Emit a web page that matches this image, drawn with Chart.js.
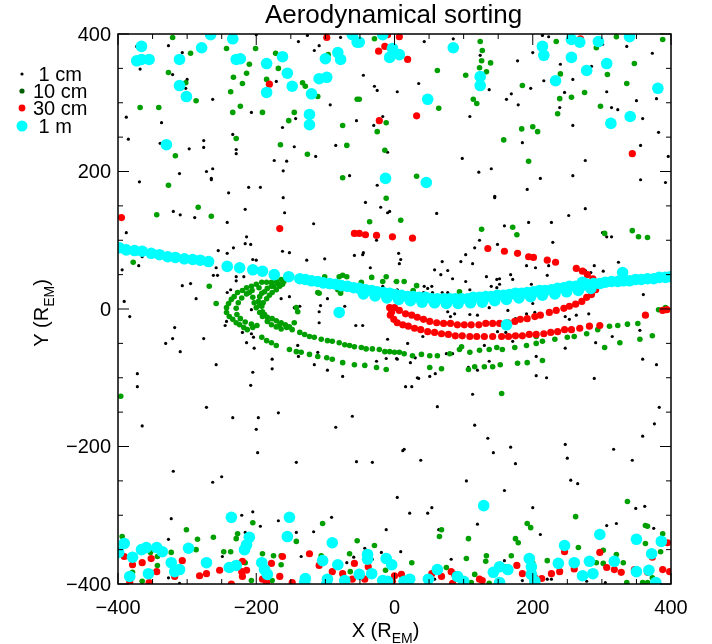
<!DOCTYPE html>
<html lang="en">
<head>
  <meta charset="UTF-8">
  <title>Aerodynamical sorting</title>
  <script src="https://cdn.jsdelivr.net/npm/chart.js"></script>
  <style>
    body { margin: 0; background: #fff; }
    canvas { display: block; }
  </style>
</head>
<body>
  <canvas id="chart" width="712" height="644"></canvas>

  <script>
    // axis ticks
    const majorTicks = [-400, -200, 0, 200, 400];
    const minorStep = 50;

    // legend
    const sizeLabels = [" 1 cm", "10 cm", "30 cm", " 1 m"];

    // 1 cm grains (black)
    const cm1Points = [
      [-373,382],[-368,349],[-327,383],[-321,341],[-307,373],[-300,334],[-302,321],[-263,305],[-200,399],[-126,398],[-139,389],[-116,376],[-109,383],[-78,395],[-171,331],[-207,286],[-143,277],[-162,264],[-388,279],[-337,271],[-385,247],[-339,241],[-276,245],[-276,235],[-297,233],[-234,254],[-229,232],[-229,226],[-145,236],[-114,222],[-93,297],[-85,238],[-65,194],[-174,216],[-156,215],[-161,201],[-263,204],[-272,200],[-265,190],[-311,197],[-369,185],[-240,169],[-211,177],[-194,177],[-161,162],[-55,274],
      [-45,340],[-29,324],[-25,318],[4,316],[35,328],[43,389],[85,393],[124,369],[137,319],[109,280],[-30,267],[-17,280],[-10,228],[98,219],[122,199],[140,204],[162,305],[169,313],[179,297],[178,361],[197,321],[200,373],[214,398],[223,396],[216,332],[185,242],[211,190],[192,174],[145,162],[-25,180],[240,356],[246,315],[239,293],[258,334],[258,267],[276,216],[258,194],[285,353],[301,385],[307,316],[314,293],[323,290],[336,382],[350,303],[359,277],[356,238],[356,188],[373,372],[379,306],[382,257],[392,184],[396,222],
      [-265,188],[-159,140],[-320,142],[-310,137],[-289,133],[-216,145],[-242,126],[-117,124],[-42,155],[-20,148],[-10,140],[-388,111],[-340,82],[-365,76],[-370,63],[-394,57],[-214,105],[-216,95],[-208,94],[-233,89],[-242,81],[-255,85],[-162,84],[-152,82],[-205,72],[-200,71],[-127,71],[-101,73],[-58,78],[-45,82],[-46,79],[-35,60],[-26,100],[-258,60],[-262,49],[-256,49],[-229,47],[-229,41],[-218,47],[-307,34],[-295,37],[-287,15],[-391,11],[-383,-11],[-318,-27],[-321,-43],[-331,-50],[-310,-62],[-276,-43],[-258,-81],[-372,-94],[-243,-18],[-245,-24],[-237,28],[-242,24],[-207,-1],[-220,-34],[-214,-49],[-207,-36],[-204,-41],[-203,-57],[-205,-92],[-177,-73],[-177,-87],[-140,-53],[-139,-69],[-116,-81],[-97,-89],[-75,-98],[-111,-63],[-109,-20],[-109,-4],[-107,5],[-137,4],[-145,2],[-152,18],[-164,15],[-182,-18],[-56,-24],[-46,-24],[-72,4],[-97,15],[-43,33],[-17,33],[1,40],[4,28],[4,21],[-10,-44],[-12,-72],[-26,-76],[3,-72],
      [145,164],[61,139],[-7,142],[159,121],[194,126],[227,126],[252,136],[276,146],[301,111],[307,105],[314,105],[123,100],[149,94],[229,97],[116,89],[103,79],[96,69],[69,69],[113,66],[6,81],[9,72],[7,66],[58,57],[77,56],[67,50],[84,44],[103,40],[133,47],[148,43],[152,44],[168,50],[171,43],[152,36],[148,31],[140,33],[109,28],[191,63],[204,60],[223,63],[221,49],[198,36],[216,31],[237,33],[276,56],[284,53],[302,55],[324,68],[289,63],[360,21],[43,33],[48,30],[54,33],[42,24],[55,24],[69,24],[77,24],[84,18],[77,-4],[81,-11],[87,-7],[109,-8],[120,-9],[137,2],[149,-33],[164,-2],[175,-14],[161,-34],[200,8],[191,-7],[203,-5],[246,1],[247,-11],[253,-15],[263,-9],[281,-7],[19,-50],[4,-73],[23,-78],[30,-71],[41,-40],[75,-65],[84,-65],[130,-53],[137,-76],[171,-47],[205,-69],[247,-57],[291,-49],[315,-40],[337,-24],[355,-31],[359,-73],[379,-81],[51,-98],[33,-100],[107,-85],[120,-89],[205,-97],[289,-101],
      [-372,-113],[-365,-170],[-272,-143],[-234,-158],[-208,-111],[-197,-158],[-200,-175],[-198,-209],[-168,-151],[-85,-172],[-61,-156],[-55,-222],[-32,-223],[-142,-223],[-320,-236],[-250,-244],[-263,-252],[4,-274],[-323,-305],[-221,-300],[-205,-295],[-194,-316],[-168,-308],[-91,-303],[-142,-325],[-117,-324],[-327,-335],[-216,-325],[-12,-321],[-43,-348],[-19,-354],[-135,-360],[-69,-369],[-327,-391],[-311,-399],[-32,-364],[-249,-360],[-59,-361],[9,-353],[22,-297],[48,-297],[54,-289],[64,-321],[82,-364],[120,-313],[58,-393],[16,-113],[25,-113],[35,-101],[59,-94],[62,-142],[113,-124],[116,-169],[135,-188],[143,-209],[168,-201],[175,-225],[220,-100],[247,-197],[250,-217],[255,-249],[265,-254],[317,-204],[344,-220],[359,-185],[376,-167],[383,-143],[12,-206],[14,-204],[38,-220],[104,-250],[159,-264],[200,-289],[211,-328],[307,-315],[321,-312],[349,-290],[362,-287],[375,-319],[159,-366],[185,-395],[221,-393],[227,-393],[278,-396],[305,-398]
    ];

    // 10 cm grains (green)
    const cm10Points = [
      [-321,395],[-295,372],[-327,344],[-302,329],[-287,303],[-368,293],[-341,293],[-243,379],[-201,379],[-172,372],[-210,356],[-214,343],[-233,337],[-168,350],[-185,334],[-220,328],[-237,316],[-223,295],[-234,286],[-191,286],[-133,329],[-129,324],[-111,309],[-145,286],[-153,274],[-75,267],[-54,305],[-165,239],[-229,248],[-126,225],[-317,223],[-327,180],[-75,191],[-69,238],[-96,370],[-29,393],[-51,305],[62,347],[64,292],[103,340],[124,389],[127,376],[126,361],[123,351],[133,345],[139,358],[114,305],[119,299],[-12,271],[-25,258],[-14,231],[32,193],[158,246],[184,262],[200,265],[207,258],[194,215],[185,325],[234,389],[240,342],[239,306],[236,284],[256,308],[275,315],[292,380],[308,341],[298,295],[336,328],[321,396],[347,357],[388,392],[-12,161],
      [-284,148],[-344,137],[-265,135],[-378,68],[-268,33],[-258,8],[-36,127],[-142,2],[-140,-4],[-109,23],[-80,47],[-75,49],[-78,23],[-77,28],[-33,46],[-17,40],[-12,47],[-101,47],[-111,24],[-69,47],[-48,39],[-82,28],
      [-149,47],[-156,46],[-164,43],[-171,40],[-178,39],[-185,39],[-192,39],[-200,36],[-207,33],[-214,31],[-220,27],[-227,24],[-232,18],[-236,14],[-240,8],[-243,2],[-243,-5],[-239,-11],[-234,-15],[-229,-20],[-224,-23],[-218,-27],[-213,-30],[-205,-27],
      [-152,44],[-160,40],[-168,36],[-175,33],[-196,31],[-206,27],[-214,22],[-221,16],[-226,9],[-229,1],[-228,-8],[-223,-14],[-216,-19],[-207,-22],[-199,-24],[-145,-20],
      [-192,-41],[-185,-46],[-178,-49],[-171,-53],[-152,-59],[-142,-62],[-135,-63],[-123,-66],[-111,-69],[-98,-71],[-90,-73],[-75,-78],[-58,-81],[-43,-82],[-26,-85],[-12,-88],[51,-85],[68,-87],[107,-88],[116,-84],[130,-84],[142,-84],[153,-81],[178,-79],[192,-78],[214,-75],[304,-56],[326,-49],[355,-44],[373,-39],
      [-166,-23],[-156,-27],[-148,-30],[-137,-34],[-130,-37],[-123,-40],[-116,-41],[-106,-44],[-97,-46],[-90,-47],[-80,-49],[-72,-52],[-65,-53],[-58,-55],[-48,-56],[-41,-58],[-32,-58],[-22,-59],[-14,-62],[-7,-62],[0,-63],[7,-63],[14,-65],[26,-68],[39,-66],[51,-68],[62,-68],[80,-65],[94,-59],[109,-63],[123,-60],[137,-59],[148,-56],[156,-59],[174,-56],[191,-53],[205,-50],[214,-47],[232,-44],[250,-41],[260,-40],[278,-36],[294,-30],[311,-25],[323,-24],[337,-22],[352,-21],
      [-162,36],[-166,33],[-171,28],[-177,24],[-181,20],[-185,15],[-190,9],[-192,4],[-191,-4],[-188,-8],[-184,-12],[-177,-14],[-171,-17],[-164,-20],[-158,-23],[-152,-26],
      [-178,33],[-184,30],[-188,25],[-192,23],[-195,18],[-197,11],[-195,5],[-210,24],[-205,17],[-203,9],[-200,2],[-195,-5],[-191,-11],[-184,-18],[-178,-23],[-171,-26],[-164,-29],
      [9,129],[126,116],[171,119],[177,108],[304,110],[344,114],[353,105],[366,104],[3,40],[14,40],[32,34],[27,27],[94,25],[382,-1],[392,2],[97,-55],[205,-40],
      [-396,-127],[-394,-331],[-323,-354],[-301,-321],[-285,-335],[-262,-332],[-227,-327],[-229,-334],[-205,-311],[-247,-353],[-237,-353],[-191,-356],[-175,-359],[-164,-372],[-164,-359],[-216,-369],[-104,-312],[-106,-359],[-65,-356],[-54,-337],[-29,-344],[-13,-380],[-64,-382],[-343,-360],[-343,-373],[-355,-389],[-365,-396],[-379,-383],[-353,-354],[-142,-338],[-207,-395],[-177,-395],[-287,-350],[155,-123],[262,-302],[337,-280],[363,-315],[366,-316],[388,-327],[385,-353],[363,-341],[331,-369],[302,-351],[292,-369],[266,-347],[221,-366],[192,-312],[197,-318],[175,-334],[179,-340],[107,-334],[68,-321],[65,-331],[25,-369],[104,-363],[133,-359],[132,-367],[169,-359],[116,-386],[200,-370],[302,-370],[336,-398],[366,-398],[111,-398],[137,-399],[75,-376],[162,-375],[321,-357],[359,-398],[373,-391]
    ];

    // 30 cm grains (red)
    const cm30Points = [
      [-4,-4],[-6,-9],[-7,2],[-1,-15],[4,-20],[12,-23],[20,-25],[29,-28],[38,-30],[48,-33],[58,-34],[68,-36],[78,-37],[88,-39],[98,-39],[109,-40],[119,-40],[130,-40],[142,-40],[155,-40],[165,-40],[175,-39],[185,-39],[195,-37],[205,-37],[216,-36],[226,-34],[236,-33],[246,-30],[256,-30],[268,-28],[282,-25],[297,-24],
      [0,2],[7,-2],[16,-7],[25,-9],[33,-12],[42,-15],[51,-18],[61,-20],[71,-21],[81,-21],[91,-23],[101,-23],[111,-23],[122,-23],[132,-21],[142,-21],[152,-21],[164,-20],[174,-18],[182,-15],[192,-14],[203,-11],[211,-9],[224,-5],[234,-2],[245,1],[253,4],[262,7],[271,11],[278,17],[285,21],[291,28],[292,37],[287,44],[279,50],[272,55],[263,59],
      [233,68],[221,71],[201,75],[194,76],[178,81],[159,84],[135,88],
      [-395,133],[-166,117],[-58,110],[-51,110],[-42,108],[-26,107],[-3,105],[26,103],[363,-9],[388,-2],[394,-1],[-98,395],[-181,327],[-10,399],[7,396],[-14,382],[-23,375],[19,363],[269,393],[32,281],[-22,274],[344,226],
      [-391,-360],[-379,-372],[-365,-369],[-352,-363],[-344,-382],[-355,-398],[-383,-398],[-307,-366],[-318,-389],[-282,-388],[-272,-385],[-253,-380],[-236,-400],[-220,-367],[-221,-382],[-214,-380],[-220,-389],[-191,-393],[-185,-398],[-178,-370],[-166,-389],[-162,-360],[-148,-398],[-123,-356],[-109,-373],[-90,-382],[-75,-385],[-61,-393],[-58,-370],[-38,-375],[-43,-393],[0,-388],[10,-386],[-3,-396],[54,-385],[68,-389],[82,-382],[87,-386],[84,-399],[123,-393],[127,-395],[177,-373],[185,-385],[203,-391],[213,-392],[227,-385],[239,-382],[246,-353],[260,-378],[287,-386],[307,-376],[318,-379],[328,-383],[347,-379],[366,-383],[373,-361],[388,-379],[398,-382],[395,-340],[297,-354]
    ];

    // 1 m grains (cyan)
    const m1Points = [
      [-398,89],[-388,86],[-376,85],[-365,84],[-352,81],[-340,79],[-328,76],[-317,75],[-304,73],[-292,72],[-281,71],[-269,69],
      [-242,62],[-224,60],[-205,57],[-191,55],[-174,50],[-153,47],
      [-137,44],[-129,43],[-120,41],[-111,40],[-103,38],[-94,37],[-85,36],[-77,34],[-68,33],[-59,31],[-51,30],[-42,28],[-33,27],[-25,25],[-16,24],[-7,23],[1,21],[10,20],[19,18],[27,18],[36,17],[45,17],[54,15],[62,15],[71,15],[80,15],[88,15],[97,15],[106,15],[114,17],[123,17],[132,18],[140,18],[149,20],[158,20],[166,21],[175,23],[184,23],[192,24],[201,25],[210,27],[218,27],[227,28],[236,30],[245,31],[253,33],[262,33],[271,34],[279,36],[288,37],[297,37],[305,39],[314,40],[323,40],[331,41],[340,41],[349,43],[357,43],[366,44],[375,44],[383,46],[392,46],[399,47],
      [-45,22],[-28,19],[-11,16],[6,14],[23,12],[40,10],[58,9],[75,8],[92,8],[110,9],[127,10],[145,12],[162,14],[180,16],[197,18],[214,20],[232,22],[249,25],[266,27],[284,30],
      [-366,382],[-373,361],[-366,363],[-355,363],[-311,363],[-279,380],[-266,399],[-234,393],[-229,363],[-223,364],[-185,357],[-162,367],[-155,343],[-148,324],[-311,325],[-301,309],[-185,315],[-120,313],[-109,335],[-98,337],[-100,364],[-82,373],[-78,363],[-61,399],[-54,388],[-123,283],[-123,268],[-330,239],[-51,388],[-17,399],[-3,379],[-7,366],[7,370],[85,380],[48,305],[124,338],[124,325],[214,382],[216,369],[256,392],[268,388],[295,389],[340,396],[256,366],[233,332],[278,347],[307,357],[381,321],[341,280],[313,270],[-13,190],[46,184],
      [-80,-5],[330,53],[162,-23],[272,39],
      [-236,-303],[-152,-303],[-155,-331],[-210,-332],[-214,-343],[-217,-350],[-391,-341],[-399,-354],[-379,-361],[-366,-350],[-359,-347],[-344,-347],[-336,-353],[-298,-348],[-323,-369],[-318,-382],[-311,-379],[-356,-385],[-383,-389],[-272,-369],[-239,-376],[-229,-373],[-192,-369],[-188,-379],[-184,-386],[-129,-392],[-130,-398],[-90,-340],[-104,-366],[-82,-372],[-97,-393],[-98,-400],[-72,-395],[-39,-357],[-39,-364],[-51,-386],[-33,-385],[-12,-363],[-4,-372],[-17,-395],[-10,-396],
      [129,-286],[14,-396],[22,-393],[49,-393],[62,-379],[91,-389],[100,-396],[143,-383],[152,-375],[164,-379],[152,-398],[195,-363],[198,-375],[198,-386],[203,-396],[237,-370],[246,-344],[260,-369],[272,-388],[282,-367],[287,-385],[297,-328],[318,-367],[350,-335],[350,-382],[368,-380],[372,-356],[378,-398],[386,-338]
    ];

    const FONT = '"Liberation Sans", Arial, Helvetica, sans-serif';
    const toXY = pts => pts.map(p => ({ x: p[0], y: p[1] }));
    const fmt = v => (v < 0 ? "\u2212" + Math.abs(v) : String(v));

    const seriesStyle = [
      { data: cm1Points, color: "#000000", legendColor: "#000000", radius: 1.6, legendRadius: 1.6, order: 3 },
      { data: cm10Points, color: "#009f00", legendColor: "#005f00", radius: 2.8, legendRadius: 2.6, order: 2 },
      { data: cm30Points, color: "#ff0000", legendColor: "#ff0000", radius: 3.6, legendRadius: 3.4, order: 1 },
      { data: m1Points, color: "#00ffff", legendColor: "#00ffff", radius: 5.8, legendRadius: 5.5, order: 0 }
    ];

    // draws text with a subscript part, e.g. R_EM
    function drawSubText(ctx, parts, x, y, align) {
      const widths = parts.map(p => { ctx.font = p.font; return ctx.measureText(p.text).width; });
      const total = widths.reduce((a, b) => a + b, 0);
      let cx = align === "center" ? x - total / 2 : x;
      ctx.textAlign = "left";
      ctx.textBaseline = "alphabetic";
      parts.forEach((p, i) => {
        ctx.font = p.font;
        ctx.fillText(p.text, cx, y + (p.dy || 0));
        cx += widths[i];
      });
    }

    const idlFrame = {
      id: "idlFrame",
      afterDatasetsDraw(chart) {
        const { ctx, chartArea: a, scales: { x, y } } = chart;
        ctx.save();
        ctx.strokeStyle = "#000";
        ctx.fillStyle = "#000";

        // box + inward ticks
        ctx.lineWidth = 1.5;
        ctx.strokeRect(a.left, a.top, a.right - a.left, a.bottom - a.top);
        ctx.lineWidth = 1;
        for (let v = -400; v <= 400; v += minorStep) {
          const len = majorTicks.includes(v) ? 11 : 5;
          const px = x.getPixelForValue(v);
          const py = y.getPixelForValue(v);
          ctx.beginPath();
          ctx.moveTo(px, a.bottom); ctx.lineTo(px, a.bottom - len);
          ctx.moveTo(px, a.top); ctx.lineTo(px, a.top + len);
          ctx.moveTo(a.left, py); ctx.lineTo(a.left + len, py);
          ctx.moveTo(a.right, py); ctx.lineTo(a.right - len, py);
          ctx.stroke();
        }

        // tick labels
        ctx.font = "20px " + FONT;
        ctx.textAlign = "center";
        ctx.textBaseline = "alphabetic";
        majorTicks.forEach(v => ctx.fillText(fmt(v), x.getPixelForValue(v), a.bottom + 30));
        ctx.textAlign = "right";
        ctx.textBaseline = "middle";
        majorTicks.forEach(v => ctx.fillText(fmt(v), a.left - 7, y.getPixelForValue(v) + 1));

        // title
        const cx = (a.left + a.right) / 2;
        ctx.font = "26px " + FONT;
        ctx.textAlign = "center";
        ctx.textBaseline = "alphabetic";
        ctx.fillText("Aerodynamical sorting", cx - 1, 23);

        // axis titles
        const big = "20px " + FONT, small = "14px " + FONT;
        drawSubText(ctx, [
          { text: "X (R", font: big },
          { text: "EM", font: small, dy: 6 },
          { text: ")", font: big }
        ], cx - 9, 637, "center");

        ctx.save();
        ctx.translate(48, (a.top + a.bottom) / 2);
        ctx.rotate(-Math.PI / 2);
        drawSubText(ctx, [
          { text: "Y (R", font: big },
          { text: "EM", font: small, dy: 6 },
          { text: ")", font: big }
        ], -4, 0, "center");
        ctx.restore();

        // legend
        const rowY = [74, 91, 108, 126];
        seriesStyle.forEach((s, i) => {
          ctx.fillStyle = s.legendColor;
          ctx.beginPath();
          ctx.arc(22, rowY[i], s.legendRadius, 0, Math.PI * 2);
          ctx.fill();
          ctx.fillStyle = "#000";
          ctx.font = big;
          ctx.textAlign = "left";
          ctx.textBaseline = "alphabetic";
          ctx.fillText(sizeLabels[i], 33, rowY[i] + 7);
        });
        ctx.restore();
      }
    };

    new Chart(document.getElementById("chart"), {
      type: "scatter",
      data: {
        datasets: seriesStyle.map((s, i) => ({
          label: sizeLabels[i].trim(),
          data: toXY(s.data),
          backgroundColor: s.color,
          borderWidth: 0,
          pointRadius: s.radius,
          pointHoverRadius: s.radius,
          order: s.order,
          clip: 0
        }))
      },
      options: {
        responsive: false,
        animation: false,
        events: [],
        layout: { padding: { left: 118, right: 41, top: 34, bottom: 60 } },
        plugins: {
          legend: { display: false },
          tooltip: { enabled: false }
        },
        scales: {
          x: { type: "linear", min: -400, max: 400, display: false },
          y: { type: "linear", min: -400, max: 400, display: false }
        }
      },
      plugins: [idlFrame]
    });
  </script>
</body>
</html>
